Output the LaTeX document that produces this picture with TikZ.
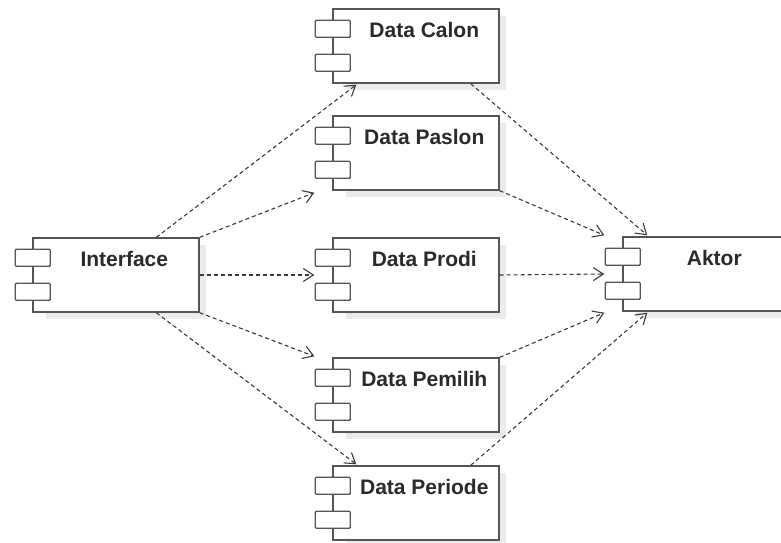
\documentclass[tikz,border=0pt]{standalone}
\usepackage{fontspec}
\setmainfont{Liberation Sans}
\usetikzlibrary{calc,arrows.meta}
\definecolor{boxline}{HTML}{555555}
\definecolor{dashc}{HTML}{3A3A3A}
\definecolor{txt}{HTML}{2A2A2A}
\definecolor{shadowc}{HTML}{EBEBEB}
\tikzset{
  comp/.style={draw=boxline, line width=1.4pt, fill=white, minimum width=166pt, minimum height=74pt, inner sep=0pt},
  port/.style={draw=boxline, line width=1.3pt, fill=white, rounded corners=1pt},
  lbl/.style={anchor=base, text=txt, font=\fontsize{21pt}{24pt}\selectfont\bfseries, inner sep=0pt},
  dep/.style={draw=dashc, line width=1.1pt, dash pattern=on 4pt off 3pt, -{Straight Barb[length=10pt,width=13pt,line width=1.1pt]}},
}
\newcommand{\mycomp}[4]{%
  \fill[shadowc] (#2-70,#3-30) rectangle (#2+90,#3+44);
  \node[comp] (#1) at (#2,#3) {};
  \draw[port] ($(#1.north west)+(-17,12)$) rectangle ($(#1.north west)+(18,29)$);
  \draw[port] ($(#1.north west)+(-17,46)$) rectangle ($(#1.north west)+(18,63)$);
  \node[lbl] (#1-t) at ($(#1.north west)+(92,29)$) {#4};
}
\begin{document}
\begin{tikzpicture}[x=1pt,y=-1pt]
\useasboundingbox (0,0) rectangle (781,542);
\fill[white] (0,0) rectangle (781,542);
\mycomp{dc}{416}{46}{Data Calon}
\mycomp{dp}{416}{153}{Data Paslon}
\mycomp{dpr}{416}{275}{Data Prodi}
\mycomp{dpe}{416}{395}{Data Pemilih}
\mycomp{dpd}{416}{503}{Data Periode}
\mycomp{if}{116}{275}{Interface}
\mycomp{ak}{706}{274}{Aktor}
% from Interface
\draw[dep] ($(if.north west)+(124,0)$) -- ($(dc.south west)+(24,1)$);
\draw[dep] (if.north east) -- ($(dp.south west)+(-18,2)$);
\draw[dep] (if.east) -- ($(dpr.west)+(-18,0)$);
\draw[dep] (if.south east) -- ($(dpe.north west)+(-18,-1)$);
\draw[dep] ($(if.south west)+(124,0)$) -- ($(dpd.north west)+(24,-1)$);
% to Aktor
\draw[dep] ($(dc.south east)+(-29,0)$) -- ($(ak.north west)+(25,-1)$);
\draw[dep] (dp.south east) -- ($(ak.north west)+(-18,-1)$);
\draw[dep] (dpr.east) -- ($(ak.west)+(-18,0)$);
\draw[dep] (dpe.north east) -- ($(ak.south west)+(-18,1)$);
\draw[dep] ($(dpd.north east)+(-29,0)$) -- ($(ak.south west)+(25,1)$);
\end{tikzpicture}
\end{document}
